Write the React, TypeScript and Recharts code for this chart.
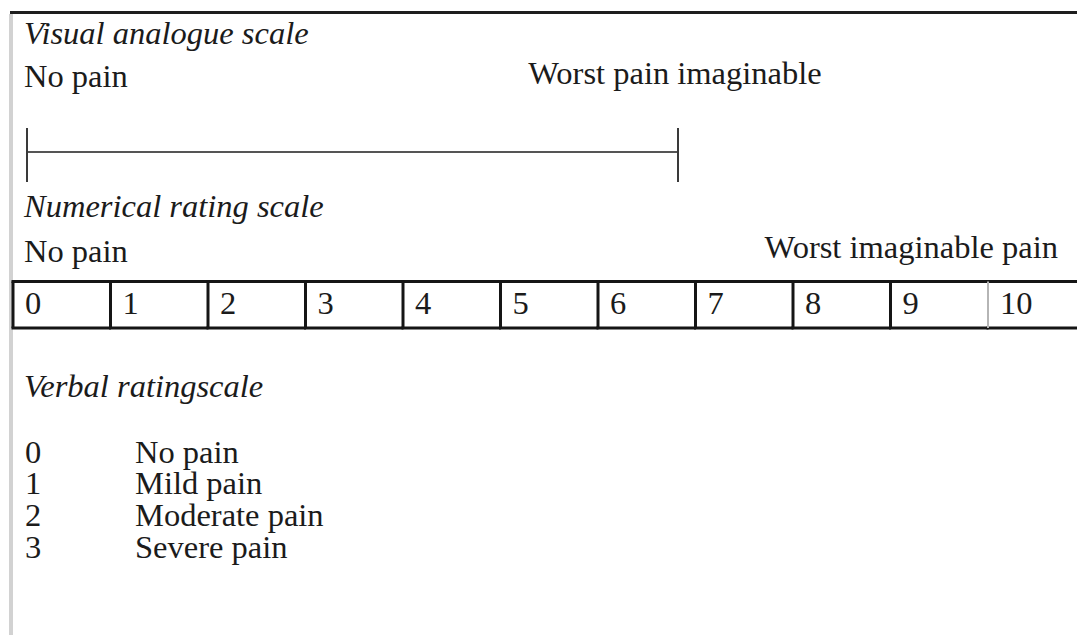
import React from "react";
import { LineChart, Line, BarChart, Bar, XAxis, YAxis, LabelList } from "recharts";

// values
const headings = ["Visual analogue scale", "Numerical rating scale", "Verbal ratingscale"];
const vasPositions = [0, 100];
const vasAnchors = ["No pain", "Worst pain imaginable"];
const nrsScores = [0, 1, 2, 3, 4, 5, 6, 7, 8, 9, 10];
const nrsAnchors = ["No pain", "Worst imaginable pain"];
const vrsCodes = [0, 1, 2, 3];
const vrsLabels = ["No pain", "Mild pain", "Moderate pain", "Severe pain"];

const vasData = vasPositions.map((pos, i) => ({ pos, mid: 0.5, label: vasAnchors[i] }));
const nrsData = nrsScores.map((s) => ({ score: String(s), cell: 1 }));
const vrsData = vrsCodes.map((c, i) => ({ code: String(c), label: vrsLabels[i], row: 1 }));

const FONT = '"Liberation Serif", "Times New Roman", serif';
const INK = "#1b1b1b";
const SIZE = 32.5;

function Caption(props: { text: string; baseline: number; left?: number; right?: number; italic?: boolean }) {
  const { text, baseline, left, right, italic } = props;
  // liberation serif: ascent .891, descent .216
  const top = baseline - (SIZE * 0.891 - (SIZE * 1.107 - SIZE) / 2);
  return (
    <div
      style={{
        position: "absolute",
        top,
        left,
        right,
        fontSize: SIZE,
        lineHeight: `${SIZE}px`,
        fontStyle: italic ? "italic" : "normal",
        whiteSpace: "nowrap",
        color: INK,
      }}
    >
      {text}
    </div>
  );
}

const VasEnd = (p: any) => (
  <line key={p.index} x1={p.cx} x2={p.cx} y1={p.cy - 24} y2={p.cy + 30} stroke="#3a3a3a" strokeWidth={2} />
);

const VasLabel = (p: any) => {
  const first = p.value === vasAnchors[0];
  return (
    <text
      x={p.x - 3}
      y={p.y - (first ? 65 : 68)}
      textAnchor={first ? "start" : "middle"}
      fontSize={SIZE}
      fontFamily={FONT}
      fill={INK}
    >
      {p.value}
    </text>
  );
};

const Cell = (p: any) => {
  const last = p.index === nrsScores.length - 1;
  return (
    <g>
      <line x1={p.x - 1.5} x2={p.x + p.width} y1={p.y} y2={p.y} stroke="#151515" strokeWidth={3} />
      <line x1={p.x - 1.5} x2={p.x + p.width} y1={p.y + p.height} y2={p.y + p.height} stroke="#151515" strokeWidth={3} />
      <line
        x1={p.x}
        x2={p.x}
        y1={p.y}
        y2={p.y + p.height}
        stroke={last ? "#b5b5b5" : "#151515"}
        strokeWidth={last ? 2 : 3}
      />
    </g>
  );
};

const CellLabel = (p: any) => (
  <text x={p.x + 12} y={p.y + 32} fontSize={SIZE} fontFamily={FONT} fill={INK}>
    {p.value}
  </text>
);

const VrsTick = (p: any) => {
  const row = vrsData.find((d) => d.code === p.payload.value);
  return (
    <g fontSize={SIZE} fontFamily={FONT} fill={INK}>
      <text x={25} y={p.y} dy="0.33em">
        {p.payload.value}
      </text>
      <text x={135} y={p.y} dy="0.33em">
        {row ? row.label : ""}
      </text>
    </g>
  );
};

export default function App() {
  return (
    <div
      style={{
        position: "absolute",
        left: 0,
        top: 0,
        width: 1077,
        height: 635,
        overflow: "hidden",
        background: "#fff",
        fontFamily: FONT,
      }}
    >
      <div style={{ position: "absolute", left: 10, top: 11, width: 1067, height: 3, background: "#1e1e1e" }} />
      <div style={{ position: "absolute", left: 9, top: 14, width: 4, height: 621, background: "#d2d2d2" }} />

      <Caption text={headings[0]} baseline={44} left={24} italic />
      <Caption text={headings[1]} baseline={217} left={24} italic />
      <Caption text={headings[2]} baseline={397} left={24} italic />

      <div style={{ position: "absolute", left: 0, top: 40 }}>
        <LineChart width={1077} height={160} data={vasData} margin={{ top: 87, bottom: 23, left: 27, right: 399 }}>
          <XAxis dataKey="pos" type="number" domain={[0, 100]} hide />
          <YAxis type="number" domain={[0, 1]} hide />
          <Line
            dataKey="mid"
            stroke="#555"
            strokeWidth={2}
            dot={VasEnd}
            activeDot={false}
            isAnimationActive={false}
          >
            <LabelList dataKey="label" content={VasLabel} />
          </Line>
        </LineChart>
      </div>

      <Caption text={nrsAnchors[0]} baseline={262} left={24} />
      <Caption text={nrsAnchors[1]} baseline={258} right={19} />

      <div style={{ position: "absolute", left: 0, top: 270 }}>
        <BarChart
          width={1100}
          height={70}
          data={nrsData}
          margin={{ top: 11.5, bottom: 12, left: 13, right: 14.5 }}
          barCategoryGap={0}
          barGap={0}
        >
          <XAxis dataKey="score" type="category" hide />
          <YAxis type="number" domain={[0, 1]} hide />
          <Bar dataKey="cell" shape={Cell} isAnimationActive={false}>
            <LabelList dataKey="score" content={CellLabel} />
          </Bar>
        </BarChart>
      </div>

      <div style={{ position: "absolute", left: 0, top: 416 }}>
        <BarChart width={500} height={167} data={vrsData} layout="vertical" margin={{ top: 20, bottom: 20, left: 0, right: 0 }}>
          <XAxis type="number" hide />
          <YAxis type="category" dataKey="code" width={60} tick={VrsTick} tickLine={false} axisLine={false} />
          <Bar dataKey="row" fill="transparent" isAnimationActive={false} />
        </BarChart>
      </div>
    </div>
  );
}
